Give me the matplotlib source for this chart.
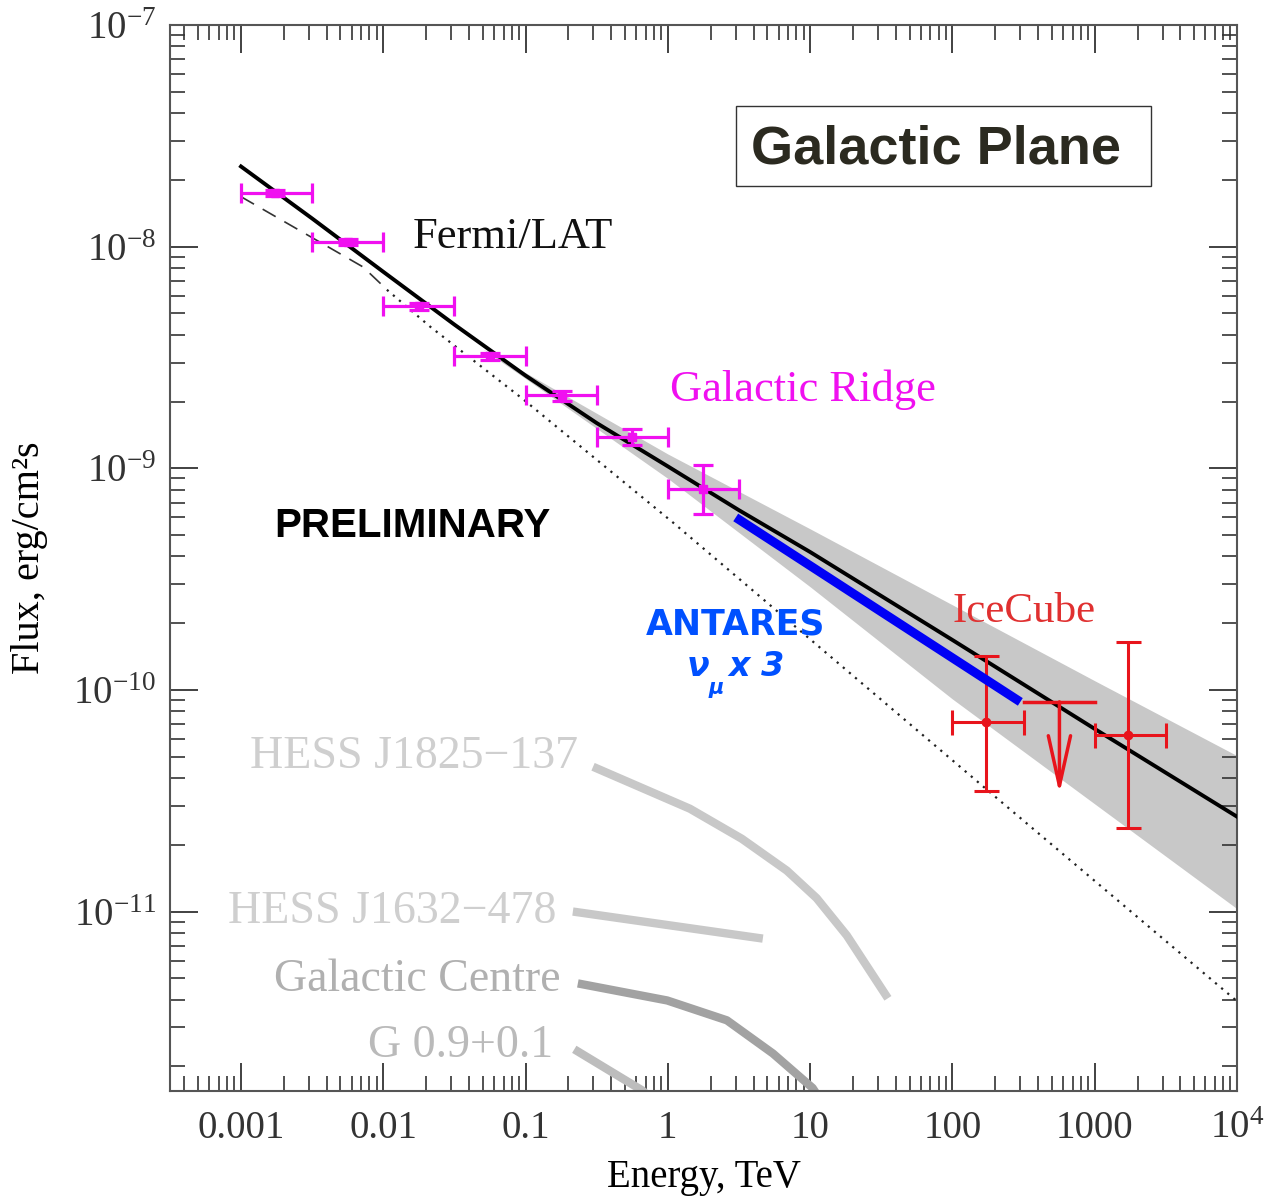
import matplotlib
matplotlib.use("Agg")
import matplotlib.pyplot as plt
from matplotlib.patches import Rectangle

plt.rcParams['font.family'] = ['Liberation Serif', 'DejaVu Serif']
plt.rcParams['mathtext.fontset'] = 'custom'
plt.rcParams['mathtext.rm'] = 'Liberation Serif'
plt.rcParams['mathtext.it'] = 'Liberation Serif:italic'
plt.rcParams['mathtext.bf'] = 'Liberation Serif:bold'

# model fit (solid), band, extrapolations
fit_E = [0.001, 0.00316, 0.01, 0.0316, 0.1, 0.316, 1, 3.16, 10, 100, 1000, 1e4]
fit_F = [2.3e-8, 1.34e-8, 7.7e-9, 4.45e-9, 2.62e-9, 1.60e-9, 1.02e-9, 6.47e-10,
         4.19e-10, 1.68e-10, 6.67e-11, 2.68e-11]
band_E = [0.05, 0.1, 1, 10, 100, 1000, 1e4]
band_hi = [3.45e-9, 2.70e-9, 1.16e-9, 5.33e-10, 2.42e-10, 1.10e-10, 5.05e-11]
band_lo = [3.45e-9, 2.54e-9, 9.0e-10, 2.92e-10, 9.1e-11, 3.06e-11, 1.03e-11]
dash_E = [0.001, 0.0072, 0.0106]
dash_F = [1.68e-8, 8.1e-9, 6.4e-9]
dot_E = [0.0106, 0.0213, 0.096, 1.08, 216, 2735, 1e4]
dot_F = [6.39e-9, 4.36e-9, 2.05e-9, 5.71e-10, 3.16e-11, 7.96e-12, 3.94e-12]

# Fermi/LAT galactic ridge points
fermi_E = [0.00173, 0.00565, 0.0178, 0.0563, 0.18, 0.56, 1.77]
fermi_Elo = [0.001, 0.00316, 0.01, 0.0316, 0.1, 0.316, 1.0]
fermi_Ehi = [0.00316, 0.01, 0.0316, 0.1, 0.316, 1.0, 3.16]
fermi_F = [1.75e-8, 1.05e-8, 5.37e-9, 3.2e-9, 2.13e-9, 1.39e-9, 8.1e-10]
fermi_Flo = [1.70e-8, 1.02e-8, 5.2e-9, 3.08e-9, 2.02e-9, 1.28e-9, 6.2e-10]
fermi_Fhi = [1.80e-8, 1.08e-8, 5.55e-9, 3.32e-9, 2.24e-9, 1.50e-9, 1.03e-9]

# IceCube
ic_E = [173, 1706]
ic_Elo = [100, 1000]
ic_Ehi = [316, 3162]
ic_F = [7.18e-11, 6.27e-11]
ic_Flo = [3.51e-11, 2.37e-11]
ic_Fhi = [1.42e-10, 1.64e-10]
ul_E = [316, 1000]
ul_Emid = 565
ul_F = 8.83e-11
ul_tip = 3.4e-11

# ANTARES
ant_E = [3.0, 300]
ant_F = [6.0e-10, 8.83e-11]

# HESS sources
j1825_E = [0.298, 1.43, 3.31, 6.86, 11.1, 18.1, 35.2]
j1825_F = [4.50e-11, 2.91e-11, 2.13e-11, 1.53e-11, 1.15e-11, 7.8e-12, 4.06e-12]
j1632_E = [0.215, 4.65]
j1632_F = [1.0e-11, 7.55e-12]
gc_E = [0.233, 0.99, 2.6, 5.47, 10.4, 11.5]
gc_F = [4.74e-12, 3.97e-12, 3.23e-12, 2.29e-12, 1.6e-12, 1.45e-12]
g09_E = [0.22, 0.66, 0.75]
g09_F = [2.39e-12, 1.56e-12, 1.45e-12]

xticks = [0.001, 0.01, 0.1, 1, 10, 100, 1000, 1e4]
xtick_labels = ['0.001', '0.01', '0.1', '1', '10', '100', '1000', '$10^4$']
yticks = [1e-11, 1e-10, 1e-9, 1e-8, 1e-7]
ytick_labels = ['$10^{-11}$', '$10^{-10}$', '$10^{-9}$', '$10^{-8}$', '$10^{-7}$']

magenta = '#f010f0'
red = '#e8141c'

fig = plt.figure(figsize=(12.75, 11.98), dpi=100)
ax = fig.add_axes([170/1275, 1-1091/1198, 1067/1275, 1066/1198])
ax.set_xscale('log')
ax.set_yscale('log')
ax.set_xlim(3.17e-4, 1e4)
ax.set_ylim(1.55e-12, 1e-7)

ax.fill_between(band_E, band_lo, band_hi, color='#c8c8c8', lw=0, zorder=1)
ax.plot(fit_E, fit_F, color='black', lw=2.8, zorder=3)
ax.plot(dash_E, dash_F, color='#333333', lw=1.2, ls=(0, (9, 6)), zorder=2)
ax.plot(dot_E, dot_F, color='#222222', lw=1.6, ls=(0, (1, 2.6)), zorder=2)

for E, F, c in [(j1825_E, j1825_F, '#c8c8c8'), (j1632_E, j1632_F, '#c8c8c8'),
                (gc_E, gc_F, '#a2a2a2'), (g09_E, g09_F, '#bdbdbd')]:
    ax.plot(E, F, color=c, lw=6, solid_capstyle='butt', zorder=2)

xerr = [[e - lo for e, lo in zip(fermi_E, fermi_Elo)], [hi - e for e, hi in zip(fermi_E, fermi_Ehi)]]
yerr = [[f - lo for f, lo in zip(fermi_F, fermi_Flo)], [hi - f for f, hi in zip(fermi_F, fermi_Fhi)]]
ax.errorbar(fermi_E, fermi_F, xerr=xerr, yerr=yerr, fmt='s', ms=6, color=magenta,
            elinewidth=2.3, capsize=7, capthick=2.3, zorder=5)

ax.plot(ant_E, ant_F, color='#0000f5', lw=6.5, solid_capstyle='butt', zorder=6)

xerr = [[e - lo for e, lo in zip(ic_E, ic_Elo)], [hi - e for e, hi in zip(ic_E, ic_Ehi)]]
yerr = [[f - lo for f, lo in zip(ic_F, ic_Flo)], [hi - f for f, hi in zip(ic_F, ic_Fhi)]]
ax.errorbar(ic_E, ic_F, xerr=xerr, yerr=yerr, fmt='o', ms=6, color=red,
            elinewidth=2.2, capsize=9, capthick=2.2, zorder=5)
ax.plot(ul_E, [ul_F, ul_F], color=red, lw=2.5, zorder=5)
ax.annotate('', xy=(ul_Emid, ul_tip), xytext=(ul_Emid, ul_F),
            arrowprops=dict(arrowstyle='->,head_length=1.8,head_width=0.4',
                            mutation_scale=20, color=red, lw=2.5, shrinkA=0, shrinkB=0),
            zorder=5)

# labels
ax.text(0.0162, 1.11e-8, 'Fermi/LAT', fontsize=32, color='#111111', va='center', ha='left')
ax.text(1.03, 2.25e-9, 'Galactic Ridge', fontsize=32, color=magenta, va='center', ha='left')
ax.text(100, 2.25e-10, 'IceCube', fontsize=31, color='#e03030', va='center', ha='left')
ax.text(0.0159, 5.48e-10, 'PRELIMINARY', fontsize=29, fontweight='bold',
        family='Liberation Sans', va='center', ha='center')
ax.text(3.0, 1.98e-10, 'ANTARES', fontsize=25, fontweight='bold', color='#0050ff',
        family='DejaVu Sans', va='center', ha='center')
ant_style = dict(fontweight='bold', style='italic', color='#0050ff', family='DejaVu Sans',
                 va='center', ha='center', textcoords='offset points', xycoords='data')
ax.annotate('ν', xy=(3.0, 1.27e-10), xytext=(-27, 0), fontsize=24, **ant_style)
ax.annotate('μ', xy=(3.0, 1.27e-10), xytext=(-14, -15), fontsize=15, **ant_style)
ax.annotate('x 3', xy=(3.0, 1.27e-10), xytext=(15, 0), fontsize=24, **ant_style)

ax.text(0.233, 4.99e-11, 'HESS J1825\u2212137', fontsize=33, color='#cfcfcf', va='center', ha='right')
ax.text(0.164, 1.0e-11, 'HESS J1632\u2212478', fontsize=33, color='#cfcfcf', va='center', ha='right')
ax.text(0.175, 4.94e-12, 'Galactic Centre', fontsize=33, color='#b0b0b0', va='center', ha='right')
ax.text(0.156, 2.49e-12, 'G 0.9+0.1', fontsize=33, color='#bababa', va='center', ha='right')

ax.add_patch(Rectangle((0.5305, 0.849), 0.3889, 0.075, transform=ax.transAxes,
                       fill=False, edgecolor='#333333', lw=1.0, zorder=7))
ax.text(0.718, 0.883, 'Galactic Plane', transform=ax.transAxes, fontsize=39,
        fontweight='bold', family='Liberation Sans', color='#2b2a20', va='center', ha='center')

ax.set_xticks(xticks)
ax.set_xticklabels(xtick_labels)
ax.set_yticks(yticks)
ax.set_yticklabels(ytick_labels)
ax.tick_params(which='both', direction='in', top=True, right=True, colors='#333333')
ax.tick_params(which='major', length=20, width=1.3, labelsize=28)
ax.tick_params(which='minor', length=11, width=1.2)
ax.tick_params(axis='x', which='major', pad=14)
ax.tick_params(axis='y', which='major', pad=10)
for s in ax.spines.values():
    s.set_linewidth(1.5)
    s.set_color('#555555')

ax.set_xlabel('Energy, TeV', fontsize=28, labelpad=8)
ax.set_ylabel('Flux, erg/cm²s', fontsize=29, labelpad=18)

fig.savefig('out.png', dpi=100)
